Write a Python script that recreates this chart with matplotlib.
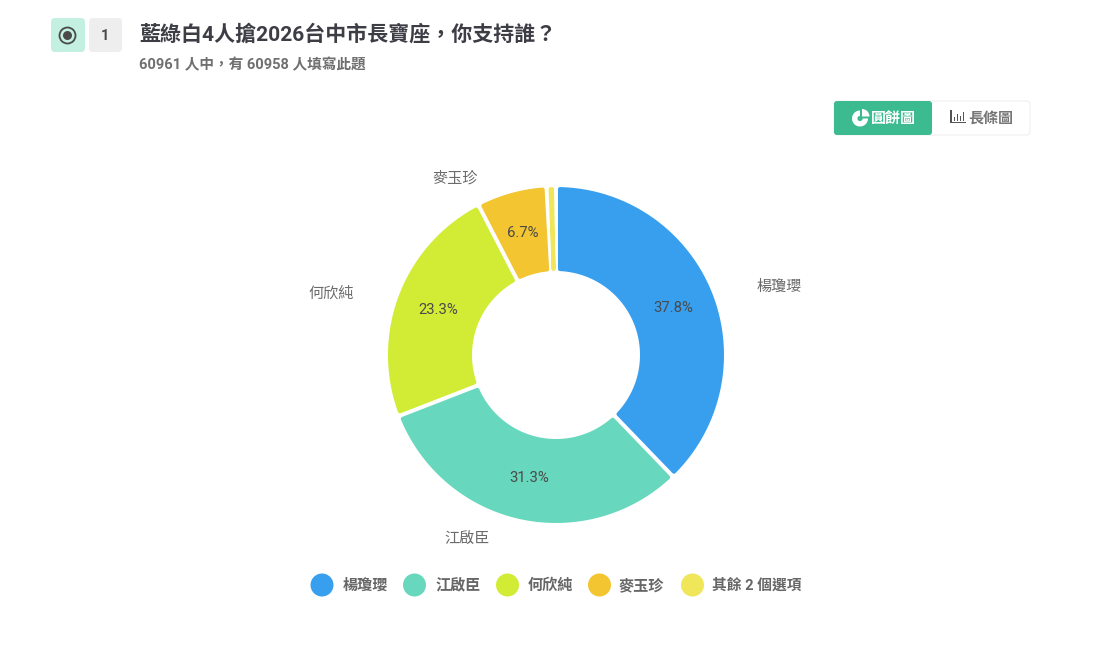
import numpy as np
import matplotlib
matplotlib.use('Agg')
import matplotlib.pyplot as plt
from matplotlib.patches import Circle, FancyBboxPatch, Wedge, Rectangle, PathPatch
from matplotlib.path import Path

plt.rcParams['font.family'] = ['Roboto', 'Noto Sans CJK TC', 'DejaVu Sans']

names = ['楊瓊瓔', '江啟臣', '何欣純', '麥玉珍', '']
values = [37.8, 31.3, 23.3, 6.7, 0.9]
colors = ['#389FEF', '#67D8BD', '#D2EC35', '#F2C531', '#F0E65A']
legend_names = ['楊瓊瓔', '江啟臣', '何欣純', '麥玉珍', '其餘 2 個選項']
legend_x = [322, 414.5, 507.5, 599.5, 692.5]
legend_text_x = [342.5, 435, 527.5, 619, 712]
label_pos = [(779, 287), (467, 539), (331, 293.5), (455, 178.5)]

title = '藍綠白4人搶2026台中市長寶座，你支持誰？'
subtitle = '60961 人中，有 60958 人填寫此題'

W, H = 1118, 657
fig = plt.figure(figsize=(W / 100, H / 100), dpi=100, facecolor='white')

# page furniture in pixel coordinates, y pointing down
bg = fig.add_axes([0, 0, 1, 1])
bg.set_xlim(0, W)
bg.set_ylim(H, 0)
bg.axis('off')

# donut axes: same pixels, origin at the centre of the ring
cx, cy = 556, 355
R_OUT, R_IN = 168, 84
ax = fig.add_axes([0, 0, 1, 1], facecolor='none')
wedges, _, pcts = ax.pie(values, colors=colors, startangle=90, counterclock=False,
                         radius=R_OUT, autopct=lambda p: f'{p:.1f}%' if p > 2 else '',
                         pctdistance=0.75, textprops={'fontsize': 10.7, 'color': '#4a4a4a'})
ax.set_xlim(-cx, W - cx)
ax.set_ylim(-(H - cy), cy)
ax.set_aspect('equal')
ax.axis('off')


def rounded_slice(t1, t2, color, gap=2.0, corner=2.0):
    # ring slice with parallel gaps, corners rounded by a stroke of the same colour
    d = gap + corner
    mid = (t1 + t2) / 2
    ang = []
    for r, a, b in [(R_OUT - corner, t1, t2), (R_IN + corner, t2, t1)]:
        off = np.degrees(np.arcsin(d / r))
        lo, hi = min(a, b) + off, max(a, b) - off
        if lo > hi:
            lo = hi = mid
        th = np.linspace(lo, hi, 60)
        if a > b:
            th = th[::-1]
        ang.append(np.column_stack([r * np.cos(np.radians(th)), r * np.sin(np.radians(th))]))
    pts = np.vstack(ang + [ang[0][:1]])
    ax.add_patch(PathPatch(Path(pts, closed=True), facecolor=color, edgecolor=color,
                           lw=corner * 2 * 0.72, joinstyle='round', zorder=2))


for w, c in zip(wedges, colors):
    w.set_visible(False)
    rounded_slice(w.theta1, w.theta2, c)
for t in pcts:
    t.set_zorder(3)

for name, (x, y) in zip(names, label_pos):
    bg.text(x, y, name, fontsize=10.9, color='#6b6b6b', ha='center', va='center')

# header
bg.add_patch(FancyBboxPatch((51, 18), 34, 34, boxstyle='round,pad=0,rounding_size=4',
                            fc='#C4F0E2', ec='none'))
bg.add_patch(Circle((67.5, 35.5), 8, fc='none', ec='#4a4a4a', lw=1.3))
bg.add_patch(Circle((67.5, 35.5), 4.5, fc='#4a4a4a', ec='none'))
bg.add_patch(FancyBboxPatch((89, 18), 33, 34, boxstyle='round,pad=0,rounding_size=4',
                            fc='#EEEEEE', ec='none'))
bg.text(105.5, 35.5, '1', fontsize=10.5, fontweight='bold', color='#4a4a4a', ha='center', va='center')
bg.text(139, 34.5, title, fontsize=15.1, fontweight='bold', color='#3d3d45', ha='left', va='center')
bg.text(139, 65, subtitle, fontsize=10.55, fontweight='bold', color='#707070', ha='left', va='center')

# chart type switch
bg.add_patch(FancyBboxPatch((834, 101), 196, 34, boxstyle='round,pad=0,rounding_size=3',
                            fc='white', ec='#E6E6E6', lw=0.5))
bg.add_patch(FancyBboxPatch((834, 101), 98, 34, boxstyle='round,pad=0,rounding_size=3',
                            fc='#3DBB90', ec='none'))
bg.add_patch(Wedge((860, 118.5), 8, 0, 270, fc='white', ec='none'))
bg.add_patch(Wedge((862, 116.5), 7.5, 270, 360, fc='white', ec='none'))
bg.add_patch(Circle((860, 118.5), 2.6, fc='#3DBB90', ec='none'))
bg.text(893.5, 118.5, '圓餅圖', fontsize=10.8, fontweight='bold', color='white', ha='center', va='center')
bg.add_patch(Rectangle((950, 110), 1.5, 13, fc='#555555', ec='none'))
bg.add_patch(Rectangle((950, 121.5), 16, 1.5, fc='#555555', ec='none'))
for bx, bh in zip([953.5, 956.5, 959.5, 962.5], [4, 7, 5, 9]):
    bg.add_patch(Rectangle((bx, 120.5 - bh), 1.6, bh, fc='#555555', ec='none'))
bg.text(991, 118.5, '長條圖', fontsize=10.8, fontweight='bold', color='#777777', ha='center', va='center')

# legend
for name, c, x, tx in zip(legend_names, colors, legend_x, legend_text_x):
    bg.add_patch(Circle((x, 585), 11.5, fc=c, ec='none'))
    size = 10.6 if len(name) > 3 else 10.9
    bg.text(tx, 585.5, name, fontsize=size, fontweight='bold', color='#666666', ha='left', va='center')

fig.savefig('out.png', dpi=100)
